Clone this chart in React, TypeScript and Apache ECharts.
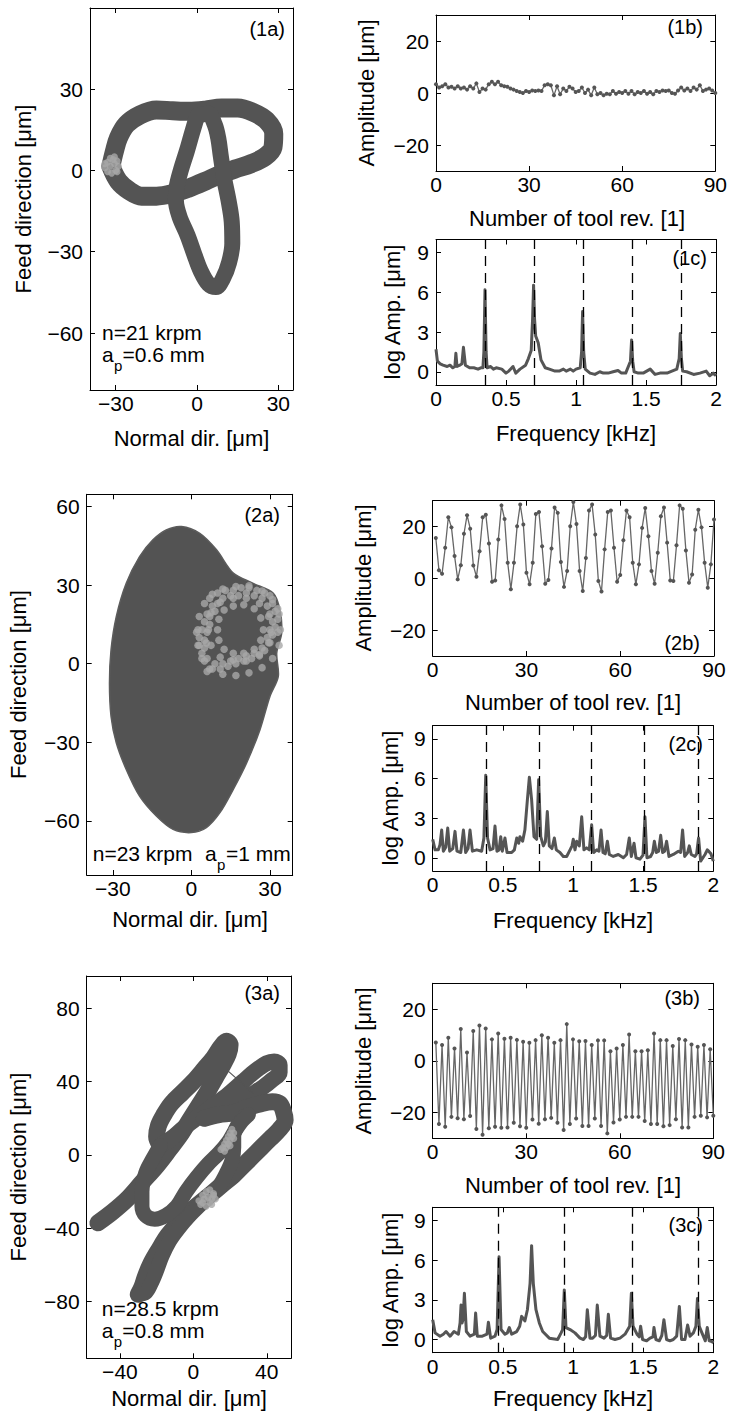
import React, { useEffect, useRef } from "react";
import * as echarts from "echarts";

const FONT = '"Liberation Sans", Arial, Helvetica, sans-serif';
type P = [number, number];

// ---------------- (1a) trajectory, n=21 krpm ----------------
const traj1aUpper: P[] = [
  [-31.8, 1.5], [-30.5, 7], [-29, 12], [-26, 17], [-21, 20.5], [-15, 22.3], [-9, 22], [-3, 21.8],
  [3, 22.2], [9, 23], [15, 23], [20.5, 21.5], [25.5, 18.5], [28.3, 13.5], [28, 8.5], [25, 5],
  [20, 2.5], [14, 0.5], [8.5, -1.5], [3, -4], [-3, -6.5], [-9, -8.5], [-15, -9.5], [-20.5, -9.5],
  [-25, -7.5], [-29, -4], [-31.8, 1.5],
];
const traj1aLower: P[] = [
  [0, 20], [-1.8, 14], [-3.8, 7], [-6, 0], [-7.5, -6], [-7.8, -11], [-6.5, -17], [-3.5, -24],
  [-1, -31], [1.3, -37], [4.3, -42], [7, -43], [9.5, -40], [11.8, -34], [13, -27], [12.8, -19],
  [11.6, -11], [10, -3], [8.8, 5], [7.8, 12], [6.5, 17], [4, 21], [0, 20],
];
const poincare1a: P[] = [
  [-34, 1], [-33, 3], [-32, 4.5], [-30.5, 5], [-29.5, 3.5], [-29, 1.5], [-30, 0], [-31.5, -1],
  [-33, -0.5], [-32, 1.5], [-30.5, 2.5], [-34, 2.5], [-31, 4], [-29.5, -0.5],
];

// ---------------- (1b) once-per-revolution samples ----------------
const revs1b: number[] = [
  3.4, 2.1, 2.6, 3.4, 2.1, 2.4, 1.7, 2.6, 1.7, 2.1,
  1.3, 2.6, 1.7, 3.7, 0.4, 1.7, 1.3, 3.4, 4.3, 3.4,
  4.3, 3.0, 2.6, 2.4, 1.7, 1.3, 0.8, 0.4, 0, 0.8,
  0.4, 1.0, 0.8, 1.0, 0.8, 3.0, 3.4, 3.0, -0.9, 2.6,
  -0.5, 1.7, 0.8, 2.4, 1.7, 0.4, 0.8, 2.1, 0, 1.3,
  -0.9, 2.1, -0.5, 0, -0.9, -0.3, -0.5, 0.8, -0.3, 0.4,
  0, 0.8, -0.3, 0.8, -0.5, 0.4, 0, 0.8, -0.3, 0.4,
  -0.5, 0.8, 0.4, 1.0, 0.8, 1.0, 0, -0.3, 1.0, 2.1,
  1.0, 1.7, 0.8, 2.1, 1.3, 3.0, 0.8, 1.3, 1.7, 1.0, 0,
];

// ---------------- (1c) spectrum ----------------
const spec1c: P[] = [
  [0, 1.7], [0.01, 0.8], [0.03, 0.6], [0.05, 0.5], [0.08, 0.4], [0.1, 0.5], [0.12, 0.3], [0.135, 0.4],
  [0.142, 1.4], [0.15, 0.4], [0.17, 0.5], [0.185, 0.6], [0.196, 1.85], [0.21, 0.5], [0.24, 0.3],
  [0.27, 0.3], [0.3, 0.2], [0.32, 0.3], [0.335, 0.3], [0.342, 1.5], [0.35, 6.2], [0.358, 1.5],
  [0.365, 0.3], [0.39, 0.4], [0.41, 0.2], [0.43, 0.3], [0.47, 0.2], [0.5, -0.1], [0.52, 0.05],
  [0.55, 0.4], [0.57, -0.1], [0.6, 0.2], [0.64, 0.5], [0.66, 1.0], [0.68, 1.6], [0.69, 4],
  [0.697, 6.55], [0.704, 4], [0.712, 2.7], [0.73, 2.2], [0.75, 0.9], [0.78, 0.3], [0.81, 0.2],
  [0.85, 0.05], [0.88, 0.05], [0.91, 0.2], [0.93, 0.05], [0.96, 0.2], [0.98, 0.05], [1.0, 0.2],
  [1.03, 0.3], [1.04, 1.5], [1.047, 4.55], [1.055, 1.5], [1.066, 0.2], [1.1, -0.1], [1.135, -0.2],
  [1.17, 0], [1.195, -0.1], [1.23, -0.1], [1.265, 0], [1.3, 0.1], [1.325, -0.1], [1.355, -0.1],
  [1.389, 0.8], [1.397, 2.4], [1.405, 0.8], [1.415, 0], [1.445, -0.1], [1.48, -0.1], [1.53, 0.2],
  [1.565, -0.2], [1.6, -0.1], [1.65, -0.1], [1.685, 0.05], [1.72, 0.2], [1.737, 1], [1.745, 2.9],
  [1.753, 1], [1.762, 0.05], [1.79, 0], [1.84, -0.2], [1.885, -0.1], [1.93, 0.05], [1.955, -0.3],
  [1.98, -0.1], [2.0, -0.3],
];
const harm1c: number[] = [0.35, 0.697, 1.047, 1.397, 1.745];

// ---------------- (2a) trajectory, n=23 krpm ----------------
const blob2a: P[] = [
  [-3.8, 52.4], [3.2, 49.8], [9.6, 43.5], [16, 34.6], [23.6, 30.7], [31.3, 26.9], [33.8, 20.6],
  [34.5, 11.7], [32.6, 4.1], [33.2, -4.8], [30, -12.5], [26.2, -25.2], [21.1, -37.9], [16, -48],
  [10.9, -56.9], [5.7, -62.6], [0, -64.5], [-7, -63.3], [-13.4, -58.2], [-19.8, -50.6],
  [-24.9, -40.4], [-28.7, -30.2], [-30.7, -20.1], [-31.3, -7.4], [-30.7, 5.3], [-28.7, 18],
  [-24.9, 30.7], [-19.8, 40.9], [-14.7, 47.3], [-9.6, 51.1],
];
const poincare2a: P[] = [
  [10, 27], [13, 28], [16, 28], [19, 29], [22, 29], [25, 28], [28, 27], [30, 26], [12, 25], [15, 26],
  [18, 26], [21, 27], [24, 26], [27, 25], [31, 23], [32, 20], [33, 17], [32, 14], [31, 11], [30, 8],
  [29, 22], [30, 19], [31, 16], [30, 13], [29, 10], [33, 21], [33, 12], [28, 5], [26, 3], [23, 2],
  [20, 1], [17, 0], [14, -1], [11, -2], [8, -2], [27, 6], [24, 4], [21, 3], [18, 2], [15, 1],
  [12, 0], [9, 0], [6, -3], [5, 1], [4, 4], [3, 7], [3, 10], [4, 13], [5, 16], [6, 19],
  [8, 22], [7, 25], [6, 2], [5, 6], [5, 9], [6, 12], [7, 15], [7, 18], [9, 20], [2, 12],
  [10, 23], [5.7, 7.9],
  [2.5, 13], [3, 18], [5, 23], [8, 26.5], [12, 28.5], [17, 29.5], [22, 29.8], [27, 27.8], [31, 24.5],
  [33.5, 19], [34, 13], [33.5, 7], [31, 2], [27, -1.5], [22, -3.5], [17, -4.5], [12, -4], [7, -2],
  [4, 2], [2.5, 7],
  [10, 13], [10.5, 17], [12.5, 20.5], [16, 22], [20, 22.5], [24, 21], [26.5, 17.5], [27.5, 13],
  [26.5, 9], [24, 5.5], [20, 4], [16, 4], [12.5, 5.5], [10.5, 9],
  [6.5, 13], [7.5, 19.5], [11, 23.5], [16, 25], [21, 25], [26, 23], [29.5, 18], [30.5, 12],
  [29.5, 8], [26, 3.5], [21, 1], [16, 1.5], [11, 2.5], [7.5, 7],
];

// ---------------- (2b) once-per-revolution samples ----------------
const revs2b: number[] = [
  15.6, 3.1, 1.8, 11.8, 23.6, 19.7, 8.6, -0.4, 5.1, 17.2,
  24.4, 19.2, 5.0, 0.6, 10.5, 23.6, 24.6, 13.5, -1.3, -0.8,
  15.0, 28.2, 22.9, 6.0, -4.2, 6.0, 20.1, 28.5, 20.8, 2.2,
  -2.3, 6.0, 24.9, 25.6, 12.4, -2.1, -0.6, 11.5, 27.4, 25.3,
  6.3, -3.3, 2.8, 20.1, 29.5, 21.0, 2.8, -4.9, 7.9, 26.2,
  28.5, 16.9, -1.0, -5.1, 11.2, 25.6, 26.2, 11.8, -1.3, 1.3,
  14.7, 26.2, 23.6, 6.0, -2.3, 5.4, 19.5, 27.2, 16.3, 2.8,
  -2.1, 9.9, 24.0, 27.4, 13.8, -0.8, -1.0, 12.8, 28.2, 26.9,
  10.8, -1.7, 1.5, 18.8, 26.5, 19.7, 6.0, -3.6, 5.4, 22.7,
];

// ---------------- (2c) spectrum ----------------
const spec2c: P[] = [
  [0, 1.4], [0.017, 0.6], [0.04, 0.6], [0.052, 1.0], [0.064, 2.1], [0.076, 0.5], [0.093, 0.8],
  [0.107, 2.25], [0.121, 0.5], [0.143, 0.7], [0.159, 2.0], [0.173, 0.5], [0.2, 0.4], [0.219, 2.1],
  [0.235, 0.4], [0.252, 0.7], [0.266, 2.1], [0.283, 0.5], [0.314, 0.6], [0.349, 0.5], [0.365, 1.5],
  [0.378, 6.25], [0.391, 1.5], [0.409, 0.6], [0.43, 0.7], [0.444, 2.4], [0.458, 0.5], [0.473, 0.6],
  [0.485, 1.6], [0.496, 0.5], [0.515, 1.5], [0.53, 0.4], [0.563, 0.4], [0.582, 0.6], [0.599, 1.5],
  [0.613, 1.1], [0.622, 1.6], [0.641, 1.25], [0.657, 2.1], [0.675, 4.4], [0.689, 6.1], [0.705, 4.4],
  [0.722, 1.6], [0.741, 1.4], [0.755, 5.9], [0.77, 1.6], [0.789, 0.9], [0.803, 1.2], [0.817, 3.5],
  [0.831, 0.9], [0.85, 0.7], [0.867, 1.5], [0.881, 0.6], [0.907, 0.4], [0.931, 0.1], [0.955, 0.1],
  [0.979, 0.6], [0.993, 0.9], [1.002, 1.4], [1.014, 0.6], [1.026, 1.25], [1.045, 0.9], [1.062, 3.1],
  [1.078, 0.6], [1.097, 0.75], [1.116, 0.6], [1.133, 2.5], [1.147, 0.4], [1.169, 0.6], [1.185, 0.5],
  [1.2, 2.1], [1.214, 0.4], [1.23, 0.3], [1.245, 1.25], [1.259, 0.25], [1.287, 0.1], [1.323, 0.25],
  [1.359, 0], [1.382, 0.25], [1.401, 1.5], [1.416, 0.1], [1.435, 1.1], [1.449, 0], [1.477, -0.1],
  [1.499, 0.2], [1.513, 3.1], [1.527, 0], [1.553, 0.1], [1.568, 0.4], [1.58, 1.25], [1.594, 0.4],
  [1.61, 0.5], [1.625, 1.7], [1.639, 0.4], [1.653, 0.5], [1.667, 1.25], [1.684, 0.1], [1.715, 0.25],
  [1.751, 0.5], [1.767, 0.4], [1.781, 2.1], [1.796, 0.1], [1.817, 0.4], [1.829, 0.9], [1.843, 0.25],
  [1.869, 0.1], [1.881, 0.3], [1.895, 1.5], [1.91, -0.25], [1.941, 0.25], [1.957, 0.6], [1.967, 0.5],
  [1.983, 0.3], [2.0, -0.25],
];
const harm2c: number[] = [0.378, 0.756, 1.134, 1.512, 1.89];

// ---------------- (3a) trajectory, n=28.5 krpm ----------------
const traj3aArm: P[] = [
  [-52, -37], [-44, -31], [-36, -24], [-28, -15], [-20, -6], [-13, 3], [-7, 11], [-2, 19], [3, 27],
  [8, 35], [12, 42], [16, 49], [19, 55], [20, 60], [18, 62], [15, 59], [11, 53], [6, 47], [0, 40],
  [-6, 34], [-12, 28], [-16, 22], [-19, 16], [-20, 10], [-18, 5],
];
const traj3aUpperRight: P[] = [
  [-18, 5], [-12, 9], [-5, 15], [3, 21], [11, 27], [19, 33], [27, 40], [34, 46], [40, 50], [44, 51],
  [47, 49], [47, 45], [43, 41], [38, 37], [32, 33], [26, 29], [20, 26], [13, 23], [6, 20],
];
const traj3aRightDown: P[] = [
  [6, 20], [14, 22], [22, 23], [30, 26], [37, 28], [43, 29], [47, 28], [49, 24], [50, 19], [47, 14],
  [42, 9], [37, 4], [32, -1], [27, -6], [22, -11], [16, -16], [10, -21], [4, -26], [-2, -31],
  [-8, -37], [-14, -44], [-19, -52], [-23, -59], [-26, -66], [-28, -72], [-30, -76],
];
const traj3aBottomUp: P[] = [
  [-30, -76], [-26, -75], [-23, -70], [-20, -63], [-17, -55], [-13, -47], [-8, -40], [-2, -33],
  [4, -27], [9, -22], [14, -17], [18, -10], [21, -3], [22, 4], [22, 10], [24, 16], [28, 21],
];
const traj3aHook: P[] = [
  [-18, 5], [-22, -2], [-26, -10], [-28, -20], [-28, -28], [-26, -33], [-21, -35], [-15, -33],
  [-9, -28], [-4, -20], [2, -12], [8, -5], [14, 1], [19, 7], [22, 12], [26, 18], [30, 22],
];
const traj3aStray: P[] = [[18.2, 46.4], [32.7, 33.6]];
const poincare3a: P[] = [
  [21, 14], [22, 12], [20, 12], [21, 10], [19, 10], [20, 8], [18, 8], [19, 6], [17, 6], [18, 4],
  [16, 4], [17, 2], [15, 3], [22, 9], [20, 5],
  [3, -25], [5, -22], [7, -20], [9, -19], [11, -21], [12, -24], [10, -27], [7, -28], [4, -27],
  [6, -24], [8, -23], [10, -24], [5, -26], [9, -26], [11, -22],
];

// ---------------- (3b) once-per-revolution samples ----------------
const revs3b: number[] = [
  7.1, -24.5, 6.1, -25.5, 8.9, -21.7, 4.8, -22.2, 12.3, -22.6,
  3.2, -21.4, 11.5, -26.4, 13.7, -28.6, 12.5, -26.1, 8.3, -25.5,
  10.6, -25.9, 8.5, -25.8, 8.9, -24.0, 8.1, -25.3, 7.4, -25.9,
  7.0, -22.7, 8.0, -24.4, 9.9, -22.6, 8.9, -22.1, 7.0, -24.0,
  8.0, -26.8, 14.2, -24.5, 8.3, -22.3, 7.6, -25.2, 7.7, -25.2,
  6.1, -22.3, 7.9, -25.2, 7.9, -28.1, 3.7, -23.9, 4.8, -22.7,
  6.1, -21.7, 10.2, -21.7, 3.7, -21.7, 3.7, -23.3, 4.1, -24.5,
  10.6, -24.5, 8.0, -25.3, 8.0, -24.9, 5.7, -22.6, 8.4, -25.8,
  8.0, -25.8, 6.3, -21.7, 5.4, -21.3, 6.1, -21.9, 4.5, -21.3,
];

// ---------------- (3c) spectrum ----------------
const spec3c: P[] = [
  [0, 1.5], [0.017, 0.5], [0.052, 0.25], [0.076, 0.4], [0.095, 0.6], [0.124, 0.25], [0.152, 0.6],
  [0.183, 0.4], [0.195, 1.25], [0.202, 2.6], [0.209, 1.25], [0.216, 1.5], [0.226, 3.5], [0.24, 0.6],
  [0.266, 0.25], [0.297, 0.4], [0.306, 2.0], [0.318, 0.25], [0.354, 0.25], [0.387, 0.4], [0.397, 1.3],
  [0.413, 0.1], [0.444, 0.25], [0.459, 0.75], [0.473, 6.25], [0.487, 0.75], [0.515, 0.4], [0.532, 0.5],
  [0.546, 0.9], [0.563, 0.4], [0.599, 0.6], [0.62, 1.0], [0.634, 1.75], [0.657, 1.4], [0.675, 2.25],
  [0.694, 4.25], [0.705, 7.1], [0.717, 4.25], [0.736, 2.25], [0.76, 1.25], [0.784, 0.6], [0.831, 0.1],
  [0.891, 0], [0.915, 0.5], [0.926, 0.75], [0.938, 3.75], [0.95, 0.9], [0.979, 0.75], [1.014, 0.5],
  [1.05, 0.1], [1.074, 0], [1.09, 0.2], [1.102, 2.25], [1.121, 0.1], [1.14, 0.1], [1.16, 0.3],
  [1.173, 2.6], [1.192, 0.25], [1.221, 0.1], [1.24, 0.3], [1.252, 1.9], [1.268, 0.1], [1.299, 0],
  [1.335, 0.1], [1.371, 0.4], [1.404, 1.0], [1.416, 3.5], [1.428, 1.0], [1.456, 0.4], [1.472, 0.2],
  [1.482, 1.0], [1.496, 0], [1.525, -0.1], [1.549, 0.1], [1.57, 0.2], [1.577, 0.9], [1.591, 0],
  [1.615, -0.1], [1.633, 0.3], [1.648, 1.5], [1.667, 0], [1.691, -0.1], [1.715, 0], [1.739, 0.25],
  [1.758, 2.5], [1.774, 0], [1.798, 0], [1.817, 1.1], [1.834, 0.25], [1.858, 0.5], [1.876, 1.0],
  [1.887, 3.1], [1.9, 1.0], [1.919, 0.5], [1.943, -0.1], [1.957, 0.9], [1.971, -0.1], [1.99, -0.15],
  [2.0, -0.25],
];
const harm3c: number[] = [0.473, 0.94, 1.418, 1.888];

// ---------------- tick values ----------------
const ticksTrajX1: number[] = [-30, 0, 30];
const ticksTrajY1: number[] = [-60, -30, 0, 30];
const ticksTrajX2: number[] = [-30, 0, 30];
const ticksTrajY2: number[] = [-60, -30, 0, 30, 60];
const ticksTrajX3: number[] = [-40, 0, 40];
const ticksTrajY3: number[] = [-80, -40, 0, 40, 80];
const ticksRevX: number[] = [0, 30, 60, 90];
const ticksRevY: number[] = [-20, 0, 20];
const ticksFreqX: number[] = [0, 0.5, 1, 1.5, 2];
const ticksFreqY: number[] = [0, 3, 6, 9];

const fmt = (v: number) => (v < 0 ? "\u2212" + String(Math.abs(v)) : String(v));

interface Box {
  left: number; top: number; width: number; height: number;
  x: [number, number]; xt: number[]; y: [number, number]; yt: number[];
}

export default function App() {
  const ref = useRef<HTMLDivElement>(null);
  useEffect(() => {
    const chart = echarts.init(ref.current as HTMLDivElement, null, { renderer: "svg" });
    const grids: any[] = [];
    const xAxes: any[] = [];
    const yAxes: any[] = [];
    const series: any[] = [];

    const axisCommon = (show: boolean, ticks: number[], margin: number) => ({
      type: "value",
      axisLine: { show: true, onZero: false, lineStyle: { color: "#000", width: 1 } },
      axisTick: { show: true, inside: true, length: 5, customValues: ticks, lineStyle: { color: "#000", width: 1 } },
      axisLabel: {
        show, customValues: ticks, formatter: fmt, margin, color: "#000",
        fontSize: 21, fontFamily: FONT,
      },
      splitLine: { show: false },
    });

    const addPanel = (b: Box) => {
      const gi = grids.length;
      grids.push({ left: b.left, top: b.top, width: b.width, height: b.height, show: false });
      xAxes.push({ ...axisCommon(true, b.xt, 3), gridIndex: gi, position: "bottom", min: b.x[0], max: b.x[1] });
      xAxes.push({ ...axisCommon(false, b.xt, 3), gridIndex: gi, position: "top", min: b.x[0], max: b.x[1] });
      yAxes.push({ ...axisCommon(true, b.yt, 7), gridIndex: gi, position: "left", min: b.y[0], max: b.y[1] });
      yAxes.push({ ...axisCommon(false, b.yt, 7), gridIndex: gi, position: "right", min: b.y[0], max: b.y[1] });
      return 2 * gi;
    };

    const band = (idx: number, data: P[], width: number, color = "#545454") => ({
      type: "line", xAxisIndex: idx, yAxisIndex: idx, data, showSymbol: false, symbol: "none",
      smooth: 0.35, lineStyle: { color, width, join: "round", cap: "round" }, z: 2, silent: true,
    });
    const dots = (idx: number, data: P[], size = 7) => ({
      type: "scatter", xAxisIndex: idx, yAxisIndex: idx, data, symbolSize: size,
      itemStyle: { color: "#a8a8a8" }, z: 4, silent: true,
    });
    const revSeries = (idx: number, vals: number[], start: number) => ({
      type: "line", xAxisIndex: idx, yAxisIndex: idx,
      data: vals.map((v, i) => [i + start, v]),
      symbol: "circle", symbolSize: 4, showSymbol: true,
      itemStyle: { color: "#555" }, lineStyle: { color: "#666", width: 1.3 }, silent: true,
    });
    const specSeries = (idx: number, data: P[], harm: number[]) => ({
      type: "line", xAxisIndex: idx, yAxisIndex: idx, data, showSymbol: false, symbol: "none",
      lineStyle: { color: "#555", width: 3, join: "round" }, silent: true,
      markLine: {
        silent: true, symbol: ["none", "none"], label: { show: false },
        lineStyle: { color: "#000", type: [10, 7], width: 1.3 },
        data: harm.map((f) => ({ xAxis: f })),
      },
    });

    // row 1
    const a1 = addPanel({ left: 90, top: 8, width: 203, height: 382, x: [-39.5, 35.4], xt: ticksTrajX1, y: [-81, 59.9], yt: ticksTrajY1 });
    const b1 = addPanel({ left: 436, top: 15, width: 280.5, height: 156, x: [0, 90], xt: ticksRevX, y: [-30, 30], yt: ticksRevY });
    const c1 = addPanel({ left: 436, top: 239.5, width: 280, height: 145.5, x: [0, 2], xt: ticksFreqX, y: [-1, 10], yt: ticksFreqY });
    // row 2
    const a2 = addPanel({ left: 86.7, top: 494.3, width: 206, height: 380.7, x: [-40, 38.7], xt: ticksTrajX2, y: [-80.7, 64.7], yt: ticksTrajY2 });
    const b2 = addPanel({ left: 432.7, top: 500.7, width: 281.3, height: 155.3, x: [0, 90], xt: ticksRevX, y: [-30, 30], yt: ticksRevY });
    const c2 = addPanel({ left: 432.7, top: 725.7, width: 280.6, height: 145.3, x: [0, 2], xt: ticksFreqX, y: [-1, 10], yt: ticksFreqY });
    // row 3
    const a3 = addPanel({ left: 86.7, top: 976, width: 204.3, height: 382.3, x: [-58.1, 53.2], xt: ticksTrajX3, y: [-110.9, 97.6], yt: ticksTrajY3 });
    const b3 = addPanel({ left: 432.7, top: 983.3, width: 280.6, height: 155, x: [0, 90], xt: ticksRevX, y: [-30, 30], yt: ticksRevY });
    const c3 = addPanel({ left: 432.7, top: 1207.3, width: 280.6, height: 145.4, x: [0, 2], xt: ticksFreqX, y: [-1, 10], yt: ticksFreqY });

    series.push(band(a1, traj1aUpper, 19), band(a1, traj1aLower, 16), dots(a1, poincare1a));
    series.push(revSeries(b1, revs1b, 0));
    series.push(specSeries(c1, spec1c, harm1c));

    series.push({
      type: "custom", xAxisIndex: a2, yAxisIndex: a2, data: [[0, 0]], clip: true, silent: true, z: 2,
      renderItem: (_p: any, api: any) => ({
        type: "polygon",
        shape: { points: blob2a.map((pt) => api.coord(pt)), smooth: 0.3 },
        style: { fill: "#535353", stroke: "#5c5c5c", lineWidth: 1.5 },
      }),
    });
    series.push(dots(a2, poincare2a, 7.5));
    series.push(revSeries(b2, revs2b, 1));
    series.push(specSeries(c2, spec2c, harm2c));

    series.push(
      band(a3, traj3aArm, 17), band(a3, traj3aUpperRight, 16), band(a3, traj3aRightDown, 17),
      band(a3, traj3aBottomUp, 15), band(a3, traj3aHook, 15),
      { ...band(a3, traj3aStray, 1.2), smooth: false },
      dots(a3, poincare3a),
    );
    series.push(revSeries(b3, revs3b, 1));
    series.push(specSeries(c3, spec3c, harm3c));

    const txt = (text: string, x: number, y: number, size: number, align: string, rot = 0) => ({
      type: "text", x, y, rotation: rot, z: 100, silent: true,
      style: { text, font: `${size}px ${FONT}`, fill: "#000", textAlign: align, textVerticalAlign: "middle", align, verticalAlign: "middle" },
    });
    const R = Math.PI / 2;
    const graphics: any[] = [
      txt("Feed direction [\u03bcm]", 23, 199, 22, "center", R),
      txt("Amplitude [\u03bcm]", 366, 93, 22, "center", R),
      txt("log Amp. [\u03bcm]", 392, 312, 22, "center", R),
      txt("Feed direction [\u03bcm]", 18, 684.5, 22, "center", R),
      txt("Amplitude [\u03bcm]", 363, 578, 22, "center", R),
      txt("log Amp. [\u03bcm]", 390, 798, 22, "center", R),
      txt("Feed direction [\u03bcm]", 18, 1167, 22, "center", R),
      txt("Amplitude [\u03bcm]", 363, 1061, 22, "center", R),
      txt("log Amp. [\u03bcm]", 390, 1280, 22, "center", R),

      txt("Normal dir. [\u03bcm]", 191.5, 438, 22, "center"),
      txt("Number of tool rev. [1]", 577, 218, 22, "center"),
      txt("Frequency [kHz]", 576, 433, 22, "center"),
      txt("Normal dir. [\u03bcm]", 190, 919, 22, "center"),
      txt("Number of tool rev. [1]", 573, 702, 22, "center"),
      txt("Frequency [kHz]", 573, 920, 22, "center"),
      txt("Normal dir. [\u03bcm]", 189, 1398, 22, "center"),
      txt("Number of tool rev. [1]", 573, 1185, 22, "center"),
      txt("Frequency [kHz]", 573, 1398, 22, "center"),

      txt("(1a)", 285, 28.5, 20, "right"),
      txt("(1b)", 703, 26.5, 20, "right"),
      txt("(1c)", 707, 257.5, 20, "right"),
      txt("(2a)", 280, 515, 20, "right"),
      txt("(2b)", 700, 643, 20, "right"),
      txt("(2c)", 703, 744, 20, "right"),
      txt("(3a)", 280, 993, 20, "right"),
      txt("(3b)", 700, 998, 20, "right"),
      txt("(3c)", 703, 1225, 20, "right"),

      txt("n=21 krpm", 102, 332.5, 21, "left"),
      txt("a", 102, 354.5, 21, "left"),
      txt("p", 114, 365, 15, "left"),
      txt("=0.6 mm", 122.5, 354.5, 21, "left"),

      txt("n=23 krpm", 92.7, 853, 21, "left"),
      txt("a", 205, 853, 21, "left"),
      txt("p", 217, 864, 15, "left"),
      txt("=1 mm", 226, 853, 21, "left"),

      txt("n=28.5 krpm", 101.7, 1308.5, 21, "left"),
      txt("a", 101.7, 1330.5, 21, "left"),
      txt("p", 113.7, 1341, 15, "left"),
      txt("=0.8 mm", 122.2, 1330.5, 21, "left"),
    ];

    chart.setOption({
      animation: false,
      backgroundColor: "#fff",
      grid: grids,
      xAxis: xAxes,
      yAxis: yAxes,
      series,
      graphic: graphics,
    });
    return () => chart.dispose();
  }, []);
  return (
    <div
      ref={ref}
      style={{ position: "absolute", left: 0, top: 0, width: 730, height: 1418, background: "#fff" }}
    />
  );
}
